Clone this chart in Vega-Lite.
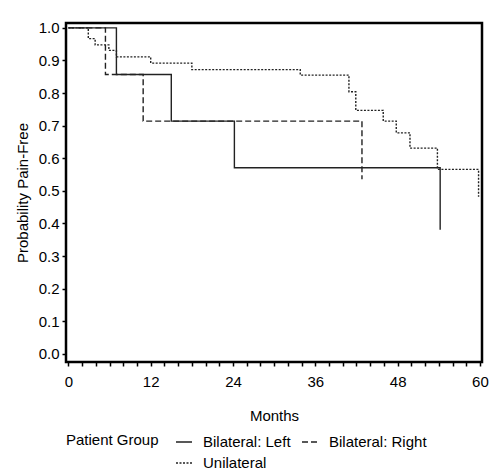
{
  "$schema": "https://vega.github.io/schema/vega-lite/v6.json",
  "width": 416,
  "height": 339,
  "autosize": {"type": "none"},
  "padding": {"left": 66, "top": 23, "right": 12, "bottom": 112},
  "background": "white",
  "config": {
    "font": "Liberation Sans",
    "view": {"stroke": "black", "strokeWidth": 2.5},
    "axis": {
      "domain": false,
      "grid": false,
      "labelFont": "Liberation Sans",
      "titleFont": "Liberation Sans",
      "labelFontSize": 15,
      "titleFontSize": 15,
      "titleFontWeight": "normal",
      "labelColor": "black",
      "titleColor": "black",
      "tickColor": "black",
      "tickWidth": 1.5
    },
    "legend": {
      "labelFont": "Liberation Sans",
      "titleFont": "Liberation Sans",
      "labelFontSize": 15,
      "titleFontSize": 15,
      "titleFontWeight": "normal",
      "labelColor": "black",
      "titleColor": "black"
    }
  },
  "data": {
    "values": [
      {"group": "Bilateral: Left", "month": 0, "survival": 1.0},
      {"group": "Bilateral: Left", "month": 7, "survival": 0.857},
      {"group": "Bilateral: Left", "month": 15, "survival": 0.714},
      {"group": "Bilateral: Left", "month": 24.2, "survival": 0.571},
      {"group": "Bilateral: Left", "month": 54.2, "survival": 0.381},
      {"group": "Bilateral: Right", "month": 0, "survival": 1.0},
      {"group": "Bilateral: Right", "month": 5.4, "survival": 0.857},
      {"group": "Bilateral: Right", "month": 10.9, "survival": 0.714},
      {"group": "Bilateral: Right", "month": 42.8, "survival": 0.536},
      {"group": "Unilateral", "month": 0, "survival": 1.0},
      {"group": "Unilateral", "month": 2.9, "survival": 0.967},
      {"group": "Unilateral", "month": 3.9, "survival": 0.948},
      {"group": "Unilateral", "month": 5.9, "survival": 0.931},
      {"group": "Unilateral", "month": 7.0, "survival": 0.911},
      {"group": "Unilateral", "month": 12.0, "survival": 0.892},
      {"group": "Unilateral", "month": 18.0, "survival": 0.872},
      {"group": "Unilateral", "month": 33.8, "survival": 0.855},
      {"group": "Unilateral", "month": 40.9, "survival": 0.804},
      {"group": "Unilateral", "month": 41.9, "survival": 0.747},
      {"group": "Unilateral", "month": 45.9, "survival": 0.714},
      {"group": "Unilateral", "month": 47.8, "survival": 0.678},
      {"group": "Unilateral", "month": 49.8, "survival": 0.631},
      {"group": "Unilateral", "month": 53.8, "survival": 0.566},
      {"group": "Unilateral", "month": 59.8, "survival": 0.482}
    ]
  },
  "mark": {"type": "line", "interpolate": "step-after", "strokeWidth": 1.4, "color": "#222"},
  "encoding": {
    "x": {
      "field": "month",
      "type": "quantitative",
      "title": "Months",
      "scale": {"domain": [-0.35, 60.3], "nice": false, "zero": false},
      "axis": {
        "values": [0, 2, 4, 6, 8, 10, 12, 14, 16, 18, 20, 22, 24, 26, 28, 30, 32, 34, 36, 38, 40, 42, 44, 46, 48, 50, 52, 54, 56, 58, 60],
        "labelExpr": "datum.value % 12 === 0 ? datum.label : ''",
        "labelOverlap": false,
        "tickSize": 4,
        "labelPadding": 8,
        "titlePadding": 19,
        "labelFlush": false
      }
    },
    "y": {
      "field": "survival",
      "type": "quantitative",
      "title": "Probability Pain-Free",
      "scale": {"domain": [-0.025, 1.015], "nice": false, "zero": false},
      "axis": {
        "values": [0, 0.1, 0.2, 0.3, 0.4, 0.5, 0.6, 0.7, 0.8, 0.9, 1.0],
        "format": ".1f",
        "tickSize": 4,
        "labelPadding": 3,
        "titlePadding": 8
      }
    },
    "strokeDash": {
      "field": "group",
      "type": "nominal",
      "title": "Patient Group",
      "scale": {"domain": ["Bilateral: Left", "Bilateral: Right", "Unilateral"], "range": [[1, 0], [6, 3], [2, 1.5]]},
      "legend": {
        "orient": "bottom",
        "direction": "horizontal",
        "columns": 2,
        "titleOrient": "left",
        "titleAnchor": "start",
        "titleBaseline": "top",
        "symbolType": "stroke",
        "symbolSize": 256,
        "symbolStrokeWidth": 1.3,
        "symbolStrokeColor": "#222",
        "columnPadding": 8,
        "rowPadding": 4,
        "labelOffset": 10,
        "titlePadding": 16,
        "offset": 10
      }
    }
  }
}
